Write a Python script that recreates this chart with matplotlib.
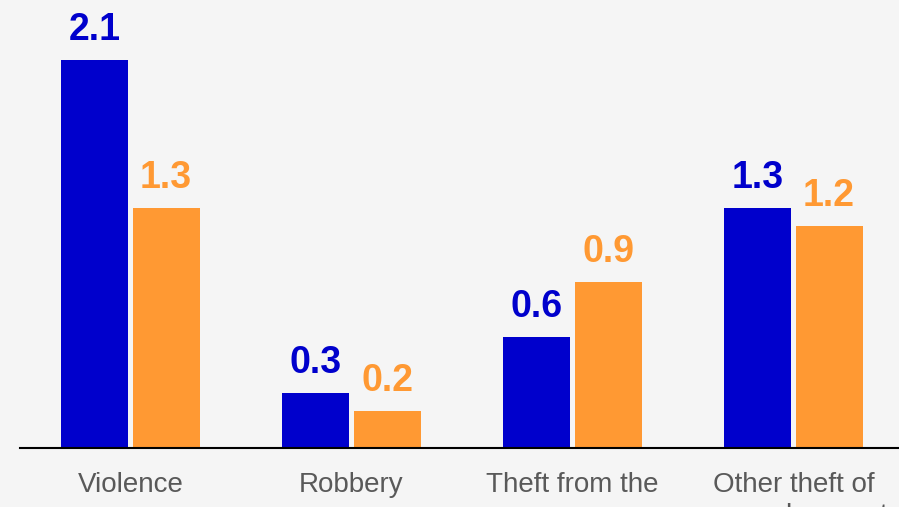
import matplotlib
matplotlib.use("Agg")
import matplotlib.pyplot as plt
import numpy as np

categories = ["Violence", "Robbery", "Theft from the\nperson", "Other theft of\npersonal property"]
series_a = [2.1, 0.3, 0.6, 1.3]
series_b = [1.3, 0.2, 0.9, 1.2]
color_a = "#0000CC"
color_b = "#FF9933"

plt.rcParams['font.family'] = ['Liberation Sans', 'DejaVu Sans']

fig = plt.figure(figsize=(8.99, 5.07), dpi=100, facecolor="#F5F5F5")
ax = fig.add_axes([20/899, 59/507, 884/899, 448/507])
ax.set_facecolor("#F5F5F5")

x = np.arange(len(categories))
w = 0.303
off = 0.161
ba = ax.bar(x - off, series_a, w, color=color_a)
bb = ax.bar(x + off, series_b, w, color=color_b)

for bars, vals, c in [(ba, series_a, color_a), (bb, series_b, color_b)]:
    for r, v in zip(bars, vals):
        ax.annotate(f"{v:.1f}", (r.get_x() + r.get_width()/2, v),
                    xytext=(0, 14.4), textcoords="offset points",
                    ha="center", va="baseline", fontsize=27, fontweight="bold", color=c)

ax.set_xlim(-0.5, 3.5)
ax.set_ylim(0, 2.424)
ax.set_xticks(x)
ax.set_xticklabels(categories, fontsize=20, color="#595959", va="top", linespacing=1.25)
ax.tick_params(axis="x", length=0, pad=17)
ax.set_yticks([])
for s in ["top", "right", "left"]:
    ax.spines[s].set_visible(False)
ax.spines["bottom"].set_color("#000000")
ax.spines["bottom"].set_linewidth(1.5)

fig.savefig("out.png", dpi=100, facecolor=fig.get_facecolor())
